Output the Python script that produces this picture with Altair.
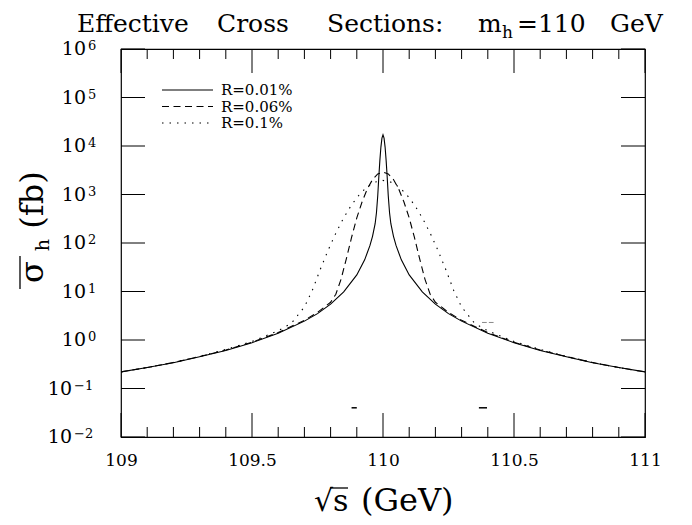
import altair as alt
import pandas as pd

# ---------------- data ----------------
series_labels = ["R=0.01%", "R=0.06%", "R=0.1%"]

sqrt_s_r001 = [109.0, 109.1, 109.2, 109.3, 109.4, 109.5, 109.6, 109.7, 109.75, 109.8,
               109.85, 109.9, 109.93, 109.95, 109.96, 109.97, 109.975, 109.98, 109.984,
               109.988, 109.992, 109.996, 110.0, 110.004, 110.008, 110.012, 110.016,
               110.02, 110.025, 110.03, 110.04, 110.05, 110.07, 110.1, 110.15, 110.2,
               110.25, 110.3, 110.4, 110.5, 110.6, 110.7, 110.8, 110.9, 111.0]
sigma_r001 = [0.22, 0.27, 0.34, 0.45, 0.61, 0.88, 1.38, 2.45, 3.5, 5.5,
              9.8, 22, 45, 88, 137, 250, 420, 950, 2300,
              5000, 9500, 14500, 17000, 14500, 9500, 5000, 2300,
              950, 420, 250, 137, 88, 45, 22, 9.8, 5.5,
              3.5, 2.45, 1.38, 0.88, 0.61, 0.45, 0.34, 0.27, 0.22]

sqrt_s_r006 = [109.0, 109.1, 109.2, 109.3, 109.4, 109.5, 109.6, 109.7, 109.75, 109.8,
               109.82, 109.84, 109.86, 109.88, 109.9, 109.92, 109.94, 109.96, 109.98,
               110.0, 110.02, 110.04, 110.06, 110.08, 110.1, 110.12, 110.14, 110.16,
               110.18, 110.2, 110.25, 110.3, 110.4, 110.5, 110.6, 110.7, 110.8, 110.9, 111.0]
sigma_r006 = [0.22, 0.27, 0.343, 0.455, 0.62, 0.9, 1.42, 2.55, 3.7, 6.0,
              8.8, 18, 47, 130, 330, 700, 1300, 2030, 2650,
              2900, 2650, 2030, 1300, 700, 330, 130, 47, 18,
              8.8, 6.0, 3.7, 2.55, 1.42, 0.9, 0.62, 0.455, 0.343, 0.27, 0.22]

sqrt_s_r01 = [109.0, 109.1, 109.2, 109.3, 109.4, 109.5, 109.6, 109.65, 109.7, 109.73,
              109.76, 109.79, 109.82, 109.85, 109.88, 109.91, 109.94, 109.97, 110.0,
              110.03, 110.06, 110.09, 110.12, 110.15, 110.18, 110.21, 110.24, 110.27,
              110.3, 110.35, 110.4, 110.5, 110.6, 110.7, 110.8, 110.9, 111.0]
sigma_r01 = [0.22, 0.27, 0.345, 0.46, 0.64, 0.93, 1.55, 2.2, 4.8, 10.5,
             28, 70, 160, 330, 610, 1000, 1450, 1800, 1950,
             1800, 1450, 1000, 610, 330, 160, 70, 28, 10.5,
             4.8, 2.2, 1.55, 0.93, 0.64, 0.46, 0.345, 0.27, 0.22]

# small stray strokes visible in the reference
gray_x1 = [110.378, 110.404]
gray_x2 = [110.396, 110.422]
gray_y = [2.3, 2.3]
black_x1 = [109.88, 110.366]
black_x2 = [109.90, 110.397]
black_y = [0.04, 0.04]

x_major = [109, 109.5, 110, 110.5, 111]
x_minor = [109.1, 109.2, 109.3, 109.4, 109.6, 109.7, 109.8, 109.9,
           110.1, 110.2, 110.3, 110.4, 110.6, 110.7, 110.8, 110.9]
y_decades_pos = [1e0, 1e1, 1e2, 1e3, 1e4, 1e5, 1e6]
y_exp_pos = ["0", "1", "2", "3", "4", "5", "6"]
y_decades_neg = [1e-2, 1e-1]
y_exp_neg = ["\u22122", "\u22121"]
y_base = "10"

title_words = ["Effective", "Cross", "Sections:", "m", "=110", "GeV"]
title_sub = "h"
x_title_rs = "\u221as"
x_title_unit = "(GeV)"
y_title_sigma = "\u03c3"
y_title_sub = "h"
y_title_unit = "(fb)"

# ---------------- chart ----------------
W, H = 524, 388
FONT = "DejaVu Serif"
xs = alt.Scale(domain=[109, 111], nice=False, zero=False)
ys = alt.Scale(type="log", domain=[1e-2, 1e6], nice=False)
xaxis = alt.Axis(values=x_major, format="~g", labelFont=FONT, labelFontSize=17,
                 labelColor="black", ticks=False, tickSize=0, domain=False,
                 grid=False, title=None, labelPadding=15, labelFlush=False)


def curve(xv, yv, dash=None):
    df = pd.DataFrame({"x": xv, "y": yv, "i": list(range(len(xv)))})
    kw = dict(color="black", strokeWidth=1.1, clip=True)
    if dash is not None:
        kw["strokeDash"] = dash
    return alt.Chart(df).mark_line(**kw).encode(
        x=alt.X("x:Q", scale=xs, axis=xaxis),
        y=alt.Y("y:Q", scale=ys, axis=None),
        order="i:Q",
    )


DASHES = [None, [7, 4.5], [1.5, 6]]
c1 = curve(sqrt_s_r001, sigma_r001, DASHES[0])
c2 = curve(sqrt_s_r006, sigma_r006, DASHES[1])
c3 = curve(sqrt_s_r01, sigma_r01, DASHES[2])

gray_df = pd.DataFrame({"x": gray_x1, "x2": gray_x2, "y": gray_y})
gray = alt.Chart(gray_df).mark_rule(color="#888888", strokeWidth=1).encode(
    x=alt.X("x:Q", scale=xs, axis=xaxis), x2="x2:Q", y=alt.Y("y:Q", scale=ys, axis=None))
black_df = pd.DataFrame({"x": black_x1, "x2": black_x2, "y": black_y})
blk = alt.Chart(black_df).mark_rule(color="black", strokeWidth=1.5).encode(
    x=alt.X("x:Q", scale=xs, axis=xaxis), x2="x2:Q", y=alt.Y("y:Q", scale=ys, axis=None))

# ticks (inside the frame)
xmaj_df = pd.DataFrame({"x": x_major})
xmin_df = pd.DataFrame({"x": x_minor})
ypos_df = pd.DataFrame({"v": y_decades_pos, "e": y_exp_pos, "b": [y_base] * len(y_exp_pos)})
yneg_df = pd.DataFrame({"v": y_decades_neg, "e": y_exp_neg, "b": [y_base] * len(y_exp_neg)})
ydec_df = pd.concat([yneg_df, ypos_df], ignore_index=True)
MAJ, MIN = 24, 10


def xticks(df, length):
    base = alt.Chart(df).mark_rule(color="black", strokeWidth=1)
    enc = dict(x=alt.X("x:Q", scale=xs, axis=xaxis))
    return (base.encode(y=alt.value(H), y2=alt.value(H - length), **enc) +
            base.encode(y=alt.value(0), y2=alt.value(length), **enc))


yt_base = alt.Chart(ydec_df).mark_rule(color="black", strokeWidth=1)
yticks = (yt_base.encode(y=alt.Y("v:Q", scale=ys, axis=None), x=alt.value(0), x2=alt.value(MAJ)) +
          yt_base.encode(y=alt.Y("v:Q", scale=ys, axis=None), x=alt.value(W), x2=alt.value(W - MAJ)))


def ylabel_layers(df, base_right):
    b = alt.Chart(df).mark_text(align="right", baseline="middle", font=FONT,
                                fontSize=19, color="black").encode(
        x=alt.value(base_right), y=alt.Y("v:Q", scale=ys, axis=None), text="b:N")
    e = alt.Chart(df).mark_text(align="left", baseline="alphabetic", font=FONT,
                                fontSize=13, color="black", dy=1).encode(
        x=alt.value(base_right + 2), y=alt.Y("v:Q", scale=ys, axis=None), text="e:N")
    return b + e


ylabels = ylabel_layers(ypos_df, -35) + ylabel_layers(yneg_df, -49)


def label(txt, x, y, size, align="left", baseline="alphabetic", angle=0):
    df = pd.DataFrame({"t": [txt]})
    kw = dict(align=align, baseline=baseline, font=FONT, fontSize=size, color="black")
    if angle:
        kw["angle"] = angle
    return alt.Chart(df).mark_text(**kw).encode(text="t:N", x=alt.value(x), y=alt.value(y))


title_x = [-44, 96, 206, 357, 396, 489]
title_layers = [label(w, xx, -17, 25) for w, xx in zip(title_words, title_x)]
title_layers.append(label(title_sub, 381, -11, 17))

x_title_layers = [
    label(x_title_rs, 193, 462, 30),
    label(x_title_unit, 240, 462, 32),
]
sbar = alt.Chart(pd.DataFrame({"k": [0]})).mark_rule(color="black", strokeWidth=1.3).encode(
    x=alt.value(209), x2=alt.value(227), y=alt.value(439))

y_title_layers = [
    label(y_title_unit, -78, 151, 32, align="center", angle=270),
    label(y_title_sigma, -78, 223, 32, align="center", angle=270),
    label(y_title_sub, -72, 196, 19, align="center", angle=270),
]
ybar = alt.Chart(pd.DataFrame({"k": [0]})).mark_rule(color="black", strokeWidth=1.3).encode(
    x=alt.value(-101), y=alt.value(207), y2=alt.value(240))

# legend
legend_layers = []
rows_y = [41, 57.5, 74]
for lab, dash, yy in zip(series_labels, DASHES, rows_y):
    kw = dict(color="black", strokeWidth=1.1)
    if dash is not None:
        kw["strokeDash"] = dash
    legend_layers.append(
        alt.Chart(pd.DataFrame({"k": [0]})).mark_rule(**kw).encode(
            x=alt.value(41), x2=alt.value(92), y=alt.value(yy)))
    legend_layers.append(label(lab, 100, yy, 15, baseline="middle"))

chart = alt.layer(
    c1, c2, c3, gray, blk,
    xticks(xmaj_df, MAJ), xticks(xmin_df, MIN), yticks,
    ylabels, *title_layers, *x_title_layers, sbar, *y_title_layers, ybar, *legend_layers
).properties(
    width=W, height=H,
    padding={"left": 113, "top": 41, "right": 39, "bottom": 85},
    autosize=alt.AutoSizeParams(type="none"),
).configure_view(stroke="black", strokeWidth=1.2)

chart.save("out.html", embed_options={"renderer": "svg", "actions": False})
